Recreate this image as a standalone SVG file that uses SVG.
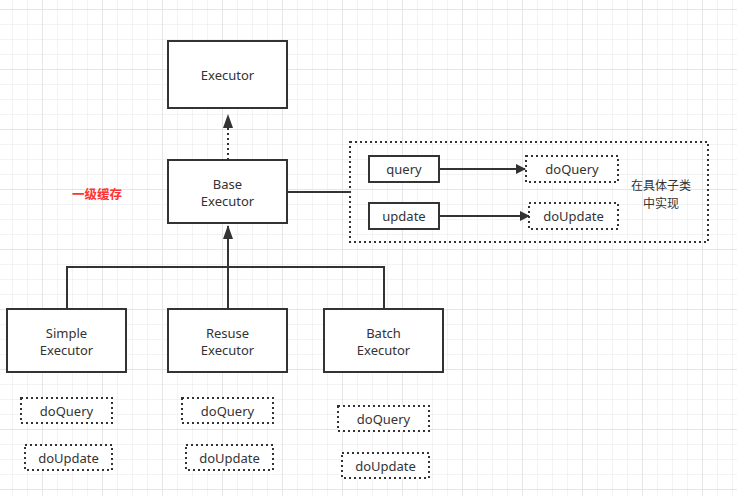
<svg xmlns="http://www.w3.org/2000/svg" width="737" height="496" viewBox="0 0 737 496">
<defs>
<pattern id="g" patternUnits="userSpaceOnUse" x="12" y="9" width="15" height="15">
<path d="M0 0H15M0 0V15" fill="none" stroke="#efefef" stroke-width="1.5"/>
</pattern>
<pattern id="G" patternUnits="userSpaceOnUse" x="42" y="69" width="60" height="60">
<path d="M0 0H60M0 0V60" fill="none" stroke="#e2e2e2" stroke-width="1.5"/>
</pattern>
<marker id="ah" markerWidth="10" markerHeight="10" refX="9" refY="5" orient="auto" markerUnits="userSpaceOnUse" viewBox="0 0 10 10">
<path d="M0 0L10 5L0 10Z" fill="#333"/>
</marker>
<marker id="av" markerWidth="14" markerHeight="14" refX="13" refY="5" orient="auto" markerUnits="userSpaceOnUse" viewBox="0 0 14 10">
<path d="M0 0L14 5L0 10Z" fill="#333"/>
</marker>
<style>
.box{fill:#fff;stroke:#333;stroke-width:2}
.dot{fill:#fff;stroke:#333;stroke-width:2;stroke-dasharray:2 3}
.dotn{fill:none;stroke:#333;stroke-width:2;stroke-dasharray:2 3}
.ln{fill:none;stroke:#333;stroke-width:2}
text{font-family:"Noto Sans","Noto Sans CJK SC",sans-serif;font-size:13px;fill:#333;text-anchor:middle;dominant-baseline:central}
.cjk{font-family:"Noto Sans CJK SC",sans-serif;font-size:12.5px}
.red{fill:#ff3333;font-weight:bold}
</style>
</defs>
<rect width="737" height="496" fill="#fff"/>
<rect width="737" height="496" fill="url(#g)"/>
<rect width="737" height="496" fill="url(#G)"/>

<g id="connectors">
<path class="dotn" d="M228 160V115" marker-end="url(#av)"/>
<path class="ln" d="M228 309V226" marker-end="url(#av)"/>
<path class="ln" d="M67 309V267H384V309"/>
<path class="ln" d="M287 192H350"/>
<path class="ln" d="M439 169H525" marker-end="url(#ah)"/>
<path class="ln" d="M439 216H529" marker-end="url(#ah)"/>
</g>

<g id="executor"><rect class="box" x="168" y="41" width="119" height="67"/><text x="227.5" y="75">Executor</text></g>
<g id="base-executor"><rect class="box" x="168" y="160" width="119" height="63"/><text x="227.5" y="184">Base</text><text x="227.5" y="200.5">Executor</text></g>
<g id="label-cache"><text class="cjk red" x="97" y="193">一级缓存</text></g>

<g id="impl-group"><rect class="dotn" x="350" y="142" width="358" height="100"/><text class="cjk" x="661" y="184" style="font-size:12px">在具体子类</text><text class="cjk" x="661" y="202" style="font-size:12px">中实现</text></g>
<g id="query"><rect class="box" x="369" y="156" width="70" height="26"/><text x="404" y="169">query</text></g>
<g id="update"><rect class="box" x="369" y="203" width="70" height="26"/><text x="404" y="216">update</text></g>
<g id="base-doquery"><rect class="dot" x="526" y="156" width="92" height="26"/><text x="572" y="169">doQuery</text></g>
<g id="base-doupdate"><rect class="dot" x="529" y="203" width="89" height="26"/><text x="573.5" y="216">doUpdate</text></g>

<g id="simple-executor"><rect class="box" x="7" y="309" width="119" height="63"/><text x="66.5" y="333">Simple</text><text x="66.5" y="349.5">Executor</text></g>
<g id="resuse-executor"><rect class="box" x="168" y="309" width="119" height="63"/><text x="227.5" y="333">Resuse</text><text x="227.5" y="349.5">Executor</text></g>
<g id="batch-executor"><rect class="box" x="324" y="309" width="119" height="63"/><text x="383.5" y="333">Batch</text><text x="383.5" y="349.5">Executor</text></g>

<g id="simple-doquery"><rect class="dot" x="21" y="398" width="91" height="25"/><text x="66.5" y="410.5">doQuery</text></g>
<g id="simple-doupdate"><rect class="dot" x="25" y="445" width="87" height="25"/><text x="68.5" y="457.5">doUpdate</text></g>
<g id="resuse-doquery"><rect class="dot" x="182" y="398" width="91" height="25"/><text x="227.5" y="410.5">doQuery</text></g>
<g id="resuse-doupdate"><rect class="dot" x="186" y="445" width="87" height="25"/><text x="229.5" y="457.5">doUpdate</text></g>
<g id="batch-doquery"><rect class="dot" x="338" y="406" width="91" height="25"/><text x="383.5" y="418.5">doQuery</text></g>
<g id="batch-doupdate"><rect class="dot" x="342" y="453" width="87" height="25"/><text x="385.5" y="465.5">doUpdate</text></g>
</svg>
